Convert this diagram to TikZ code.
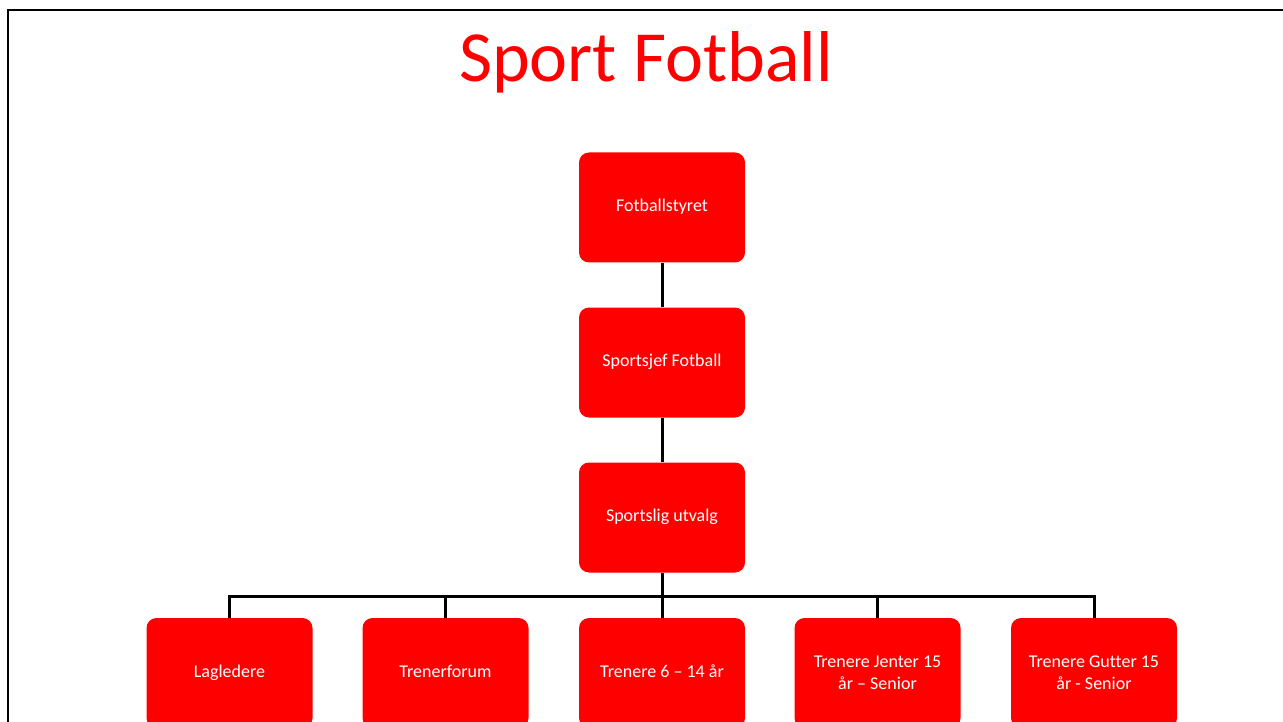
\documentclass[tikz,border=0pt]{standalone}
\usepackage{fontspec}
\setmainfont[Ligatures=NoCommon]{Carlito}
\newcommand{\twolines}[2]{\raisebox{-1pt}[0pt][0pt]{\begin{tabular}{@{}c@{}}#1\\#2\end{tabular}}}
\begin{document}
\begin{tikzpicture}[x=1pt,y=-1pt,
  box/.style={rectangle, rounded corners=10pt, fill=red, text=white,
    minimum width=166pt, minimum height=110pt, inner sep=0pt, align=center,
    font=\fontsize{18}{21.6}\selectfont,
    execute at begin node=\strut, execute at end node=\strut},
  conn/.style={line width=3pt, black},
  frame/.style={line width=2.6pt, black}]
\useasboundingbox (0,0) rectangle (1283,722);
\draw[frame] (8,722) -- (8,10) -- (1283,10);
\node[anchor=base, text=red, font=\fontsize{72}{80}\selectfont] (title) at (646,82) {Sport Fotball};
\node[box] (styret) at (662,207.5) {Fotballstyret};
\node[box] (sjef) at (662,362.5) {Sportsjef Fotball};
\node[box] (utvalg) at (662,517.5) {Sportslig utvalg};
\node[box] (lag) at (229.5,673) {Lagledere};
\node[box] (forum) at (445.5,673) {Trenerforum};
\node[box] (t614) at (662,673) {Trenere 6 – 14 år};
\node[box] (jenter) at (877.5,673) {\twolines{Trenere Jenter 15}{år – Senior}};
\node[box] (gutter) at (1094,673) {\twolines{Trenere Gutter 15}{år - Senior}};
\draw[conn] (styret) -- (sjef);
\draw[conn] (sjef) -- (utvalg);
\coordinate (bus) at (662,596);
\draw[conn] (utvalg.south) -- (bus);
\foreach \c in {lag,forum,t614,jenter,gutter}{
  \draw[conn] (bus) -| (\c.north);
}
\end{tikzpicture}
\end{document}
